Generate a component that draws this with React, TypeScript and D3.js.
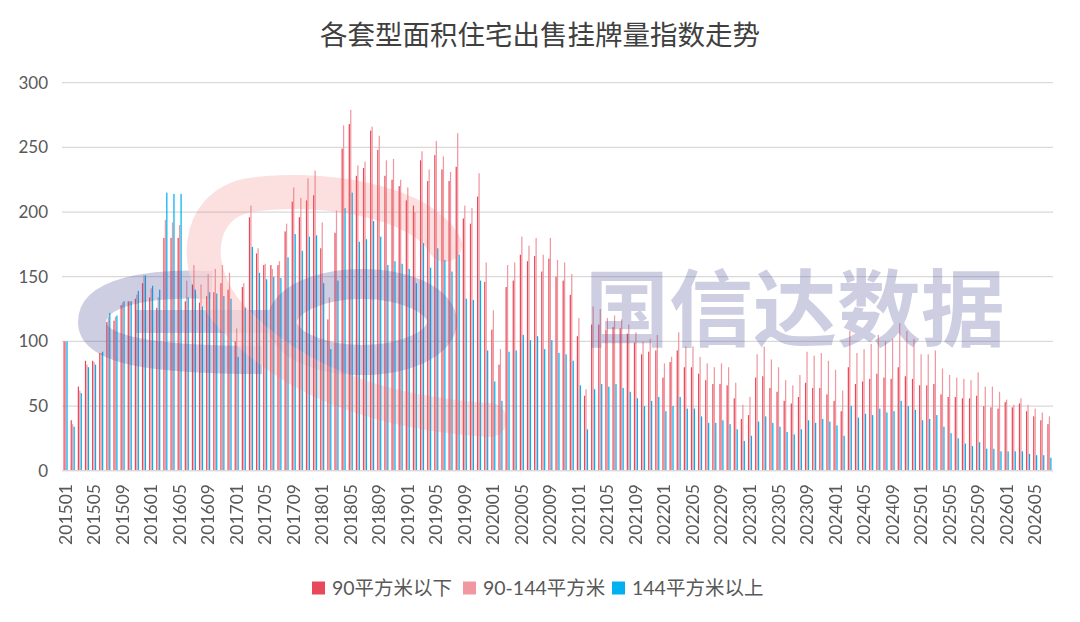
import { scaleBand, scaleLinear } from "d3";

// 201501 .. 202607, one category per month
const months: string[] = [];
for (let y = 2015; y <= 2026; y++) {
  for (let m = 1; m <= 12; m++) {
    if (y === 2026 && m > 7) break;
    months.push(`${y}${String(m).padStart(2, "0")}`);
  }
}

const seriesNames = ["90平方米以下", "90-144平方米", "144平方米以上"];
const seriesColors = ["#E8495A", "#F0979F", "#00B0F0"];

const small = [
  100, 39, 65, 85, 85, 91, 115, 116, 128, 131, 133, 145,
  134, 126, 180, 180, 180, 131, 144, 130, 135, 138, 145, 140,
  100, 142, 196, 168, 159, 159, 159, 185, 208, 196, 209, 213,
  172, 117, 184, 249, 268, 228, 234, 263, 248, 228, 225, 220,
  209, 205, 240, 224, 244, 233, 224, 235, 195, 191, 212, 146,
  109, 82, 142, 147, 167, 162, 166, 154, 164, 150, 147, 136,
  104, 58, 113, 113, 109, 111, 110, 106, 99, 90, 92, 93,
  72, 84, 93, 80, 80, 75, 70, 67, 67, 66, 56, 40,
  43, 72, 73, 64, 61, 54, 52, 57, 68, 64, 64, 59,
  54, 46, 80, 67, 69, 71, 75, 72, 71, 80, 73, 71,
  66, 66, 67, 59, 57, 57, 56, 56, 58, 50, 49, 48,
  53, 49, 52, 46, 42, 39, 36,
];

const middle = [
  100, 36, 62, 82, 84, 91, 119, 119, 130, 131, 136, 151,
  141, 134, 194, 192, 190, 147, 159, 144, 152, 156, 159, 153,
  110, 145, 205, 172, 160, 156, 162, 191, 219, 211, 226, 232,
  192, 134, 201, 267, 279, 236, 239, 266, 259, 240, 241, 225,
  219, 200, 247, 233, 255, 243, 231, 261, 205, 203, 230, 161,
  124, 94, 159, 161, 181, 174, 180, 167, 180, 163, 161, 152,
  118, 63, 127, 125, 118, 120, 117, 113, 107, 100, 102, 105,
  83, 88, 107, 96, 96, 88, 83, 80, 83, 80, 68, 51,
  57, 90, 96, 86, 80, 70, 66, 74, 92, 89, 91, 85,
  78, 62, 108, 91, 94, 98, 105, 100, 102, 114, 108, 102,
  90, 90, 93, 79, 74, 72, 71, 70, 76, 65, 65, 61,
  55, 51, 56, 51, 48, 45, 42,
];

const large = [
  100, 34, 60, 80, 82, 92, 122, 120, 131, 131, 139, 151,
  143, 140, 215, 214, 214, 134, 140, 127, 138, 137, 135, 133,
  88, 126, 173, 153, 148, 150, 149, 165, 183, 170, 181, 182,
  145, 94, 147, 203, 215, 177, 179, 193, 181, 159, 162, 160,
  156, 145, 176, 157, 172, 163, 154, 167, 133, 132, 147, 93,
  69, 54, 92, 93, 105, 101, 104, 94, 101, 91, 90, 85,
  66, 32, 63, 67, 65, 67, 64, 61, 56, 50, 54, 57,
  46, 50, 57, 48, 48, 42, 37, 37, 39, 36, 32, 23,
  27, 38, 42, 37, 34, 30, 28, 32, 39, 37, 40, 38,
  35, 27, 50, 41, 44, 43, 48, 45, 46, 54, 50, 47,
  39, 40, 43, 34, 29, 25, 21, 19, 22, 17, 17, 15,
  15, 15, 15, 13, 12, 12, 10,
];

const yTicks = [0, 50, 100, 150, 200, 250, 300];

const series = [small, middle, large];

export default function App() {
  const width = 1080;
  const height = 622;
  const plot = { left: 62, right: 1053, top: 82.7, bottom: 470.7 };
  const font = "Lato, 'Noto Sans CJK SC', sans-serif";

  const x = scaleBand<string>()
    .domain(months)
    .range([plot.left, plot.right])
    .paddingInner(0.42)
    .paddingOuter(0.21);

  const inner = scaleBand<string>()
    .domain(["0", "1", "2"])
    .range([0, x.bandwidth()])
    .paddingInner(0.15);

  const y = scaleLinear().domain([0, 300]).range([plot.bottom, plot.top]);

  const labelMonths = months.filter((_, i) => i % 4 === 0);

  const legendX = [312, 463, 612];

  return (
    <svg
      width={width}
      height={height}
      style={{ position: "fixed", left: 0, top: 0, background: "#fff" }}
    >
      <rect x={0} y={0} width={width} height={height} fill="#fff" />
      <text
        x={540}
        y={45}
        textAnchor="middle"
        fontSize={27.5}
        fill="#404040"
        fontFamily="'Noto Sans CJK SC', serif"
      >
        各套型面积住宅出售挂牌量指数走势
      </text>

      <g>
        {yTicks.map((t) => (
          <g key={t}>
            <line
              x1={plot.left}
              x2={plot.right}
              y1={y(t)}
              y2={y(t)}
              stroke="#D9D9D9"
              strokeWidth={1.3}
            />
            <text
              x={48}
              y={y(t)}
              dy="0.35em"
              textAnchor="end"
              fontSize={17}
              fill="#595959"
              fontFamily={font}
            >
              {t}
            </text>
          </g>
        ))}
      </g>

      <g>
        {months.map((m, i) => (
          <g key={m} transform={`translate(${x(m)},0)`}>
            {series.map((values, s) => (
              <rect
                key={s}
                x={inner(String(s))}
                y={y(values[i])}
                width={inner.bandwidth()}
                height={y(0) - y(values[i])}
                fill={seriesColors[s]}
              />
            ))}
          </g>
        ))}
      </g>

      {/* watermark logo */}
      <g opacity={0.3} pointerEvents="none">
        <path
          d="M212,285 C150,282 92,292 92,322 C92,350 150,360 262,360"
          fill="none"
          stroke="#5B5BA0"
          strokeWidth={28}
        />
        <rect x={136} y={310} width={140} height={23} fill="#5B5BA0" />
        <ellipse cx={362} cy={322} rx={80} ry={38} fill="none" stroke="#5B5BA0" strokeWidth={30} />
        <path
          d="M445,245 C420,200 320,185 250,195 C195,205 190,270 230,315 C280,370 360,412 490,420"
          fill="none"
          stroke="#F07070"
          strokeWidth={34}
          strokeLinecap="round"
          opacity={0.75}
        />
        <text
          x={795}
          y={340}
          textAnchor="middle"
          fontSize={84}
          fontWeight={700}
          fill="#5B5BA0"
          fontFamily="'Noto Sans CJK SC', sans-serif"
        >
          国信达数据
        </text>
      </g>

      <line x1={plot.left} x2={plot.right} y1={plot.bottom} y2={plot.bottom} stroke="#D9D9D9" strokeWidth={1.3} />

      <g>
        {labelMonths.map((m) => {
          const cx = (x(m) ?? 0) + x.bandwidth() / 2;
          return (
            <text
              key={m}
              transform={`translate(${cx + 6},484) rotate(-90)`}
              textAnchor="end"
              fontSize={17.5}
              fill="#595959"
              fontFamily={font}
            >
              {m}
            </text>
          );
        })}
      </g>

      <g>
        {seriesNames.map((name, s) => (
          <g key={name} transform={`translate(${legendX[s]},588)`}>
            <rect x={0} y={-6.5} width={13} height={13} fill={seriesColors[s]} />
            <text x={20} y={0} dy="0.36em" fontSize={19.5} fill="#595959" fontFamily={font}>
              {name}
            </text>
          </g>
        ))}
      </g>
    </svg>
  );
}
